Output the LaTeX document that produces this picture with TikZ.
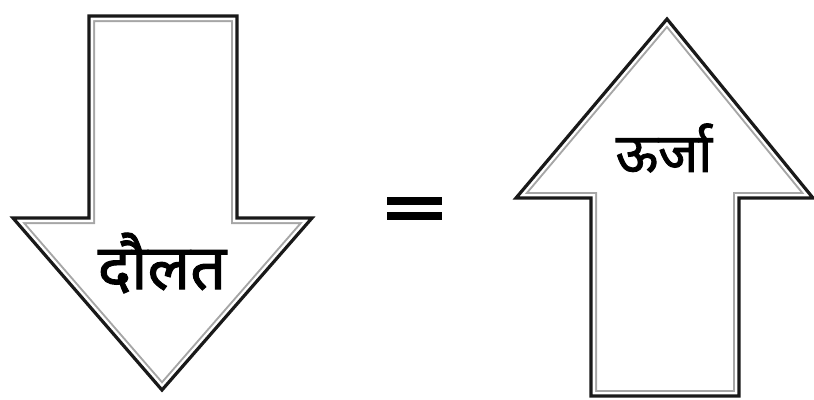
\documentclass[tikz,border=0pt]{standalone}
\usepackage{fontspec}
\newfontfamily\devfont[Script=Devanagari, FakeBold=1.6]{Noto Sans}
\usetikzlibrary{positioning}

\tikzset{
  downshape/.style={insert path={(89,16) -- (237,16) -- (237,218) -- (312,218) -- (162,390) -- (13,218) -- (89,218) -- cycle}},
  upshape/.style={insert path={(591,396) -- (739,396) -- (739,198) -- (813,198) -- (667,19) -- (516,198) -- (591,198) -- cycle}},
  outerline/.style={line width=3.2pt, black!90, line join=miter},
  innerband/.style={line width=12pt, black!35},
  innergap/.style={line width=8pt, white},
  label/.style={font=\devfont\fontsize{#1}{64}\selectfont, inner sep=0pt}
}

\begin{document}
\begin{tikzpicture}[x=1pt,y=-1pt]
\useasboundingbox (0,0) rectangle (814,399);
% left arrow, pointing down
\begin{scope}
\clip [downshape];
\draw [innerband, downshape];
\draw [innergap, downshape];
\end{scope}
\draw [outerline, downshape];
\node (wealth) at (162,263) [label=63] {दौलत};
% equals sign
\fill [black] (387,197) rectangle (442,205);
\fill [black] (387,212) rectangle (442,220);
\node (eq) at (414.5,208.5) [inner sep=0pt] {};
% right arrow, pointing up
\begin{scope}
\clip [upshape];
\draw [innerband, upshape];
\draw [innergap, upshape];
\end{scope}
\draw [outerline, upshape];
\node (energy) at (664,148) [label=54] {ऊर्जा};
\end{tikzpicture}
\end{document}
